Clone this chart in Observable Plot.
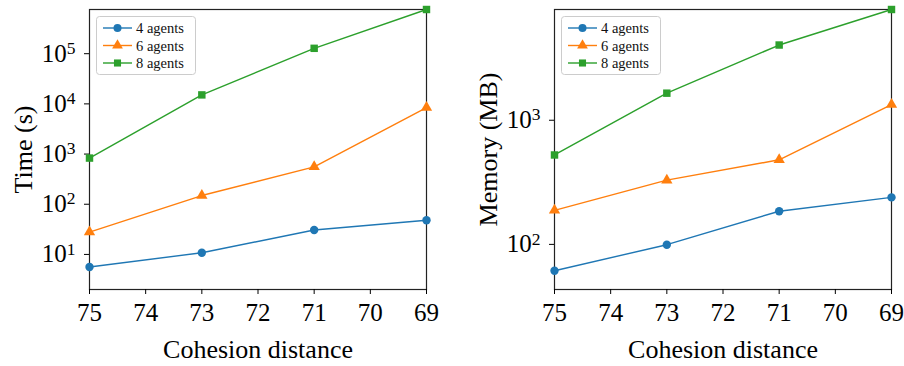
<!DOCTYPE html>
<html><head><meta charset="utf-8">
<script src="https://cdn.jsdelivr.net/npm/d3@7"></script>
<script src="https://cdn.jsdelivr.net/npm/@observablehq/plot@0.6"></script>
<style>
body{margin:0;background:#fff;}
#wrap{position:relative;width:904px;height:366px;display:flex;}
#wrap svg{display:block;}
.legend{position:absolute;top:16px;}
</style></head><body><div id="wrap"></div>
<script>
const distances = [75, 73, 71, 69];
const agents = ["4 agents", "6 agents", "8 agents"];
const colors = ["#1f77b4", "#ff7f0e", "#2ca02c"];
const symbols = ["circle", "triangle", "square"];
const time4 = [5.6, 10.8, 30.6, 48];
const time6 = [27.9, 149, 557, 8440];
const time8 = [832, 15100, 128000, 760000];
const mem4 = [61.3, 99.4, 185, 239];
const mem6 = [188, 329, 480, 1337];
const mem8 = [525, 1652, 4036, 7800];
const xTicks = [75, 74, 73, 72, 71, 70, 69];
const timeTicks = [1e1, 1e2, 1e3, 1e4, 1e5];
const memTicks = [1e2, 1e3];

function rowsOf(series) {
  const out = [];
  series.forEach((vals, i) => vals.forEach((v, j) => out.push({d: distances[j], v, s: agents[i]})));
  return out;
}
const timeRows = rowsOf([time4, time6, time8]);
const memRows = rowsOf([mem4, mem6, mem8]);

const FONT = "'Liberation Serif', 'Times New Roman', serif";

function chart({rows, yDomain, yTicks, yLabel, marginLeft, marginRight}) {
  const svg = Plot.plot({
    width: 452, height: 366,
    marginTop: 9, marginBottom: 77, marginLeft, marginRight,
    style: {fontSize: "25px", color: "#000", background: "transparent", overflow: "visible"},
    x: {domain: [75, 69]},
    y: {type: "log", domain: yDomain},
    color: {domain: agents, range: colors},
    symbol: {domain: agents, range: symbols},
    marks: [
      Plot.frame({stroke: "#222", strokeWidth: 1.2}),
      Plot.axisX({ticks: xTicks, tickSize: 5, tickPadding: 9, tickFormat: d => String(d), fontFamily: FONT,
        label: "Cohesion distance", labelAnchor: "center", labelArrow: "none", labelOffset: 68, fontSize: 25}),
      Plot.axisY({ticks: yTicks, tickSize: 5, tickPadding: 9, tickFormat: d => String(Math.round(Math.log10(d))), fontFamily: FONT,
        label: yLabel, labelAnchor: "center", labelArrow: "none", labelOffset: 76, fontSize: 25}),
      Plot.line(rows, {x: "d", y: "v", stroke: "s", strokeWidth: 1.4}),
      Plot.dot(rows, {x: "d", y: "v", fill: "s", symbol: "s", r: 4.2, stroke: "none"})
    ]
  });
  d3.select(svg).selectAll('g[aria-label="y-axis tick label"] text').each(function() {
    const k = this.textContent;
    const t = d3.select(this);
    t.text(null);
    t.append("tspan").text("10");
    t.append("tspan").attr("dy", "-0.45em").attr("font-size", "0.7em").text(k);
  });
  d3.select(svg).selectAll('g[aria-label="x-axis label"] text, g[aria-label="y-axis label"] text').attr("font-size", 26);
  d3.select(svg).style("font-family", FONT);
  d3.select(svg).selectAll("g, text").style("font-family", FONT);
  return svg;
}

function legend(left) {
  const w = 100, h = 59;
  const svg = d3.create("svg").attr("class", "legend").attr("width", w).attr("height", h)
    .style("left", left + "px");
  svg.append("rect").attr("x", 0.5).attr("y", 0.5).attr("width", w - 1).attr("height", h - 1)
    .attr("rx", 3).attr("fill", "#fff").attr("fill-opacity", 0.8).attr("stroke", "#ccc");
  agents.forEach((a, i) => {
    const y = 12 + 17.5 * i;
    const g = svg.append("g");
    g.append("line").attr("x1", 7).attr("x2", 36).attr("y1", y).attr("y2", y)
      .attr("stroke", colors[i]).attr("stroke-width", 1.4);
    const sym = {circle: d3.symbolCircle, triangle: d3.symbolTriangle, square: d3.symbolSquare}[symbols[i]];
    g.append("path").attr("d", d3.symbol(sym, 16 * Math.PI)()).attr("transform", `translate(21.5,${y})`)
      .attr("fill", colors[i]);
    g.append("text").attr("x", 40).attr("y", y + 5).attr("font-size", 14.5)
      .style("font-family", FONT).attr("fill", "#111").text(a);
  });
  return svg.node();
}

const wrap = document.getElementById("wrap");
wrap.append(chart({rows: timeRows, yDomain: [2.0, 7.6e5], yTicks: timeTicks, yLabel: "Time (s)", marginLeft: 89, marginRight: 26}));
wrap.append(chart({rows: memRows, yDomain: [43.3, 7800], yTicks: memTicks, yLabel: "Memory (MB)", marginLeft: 102, marginRight: 13}));
wrap.append(legend(96));
wrap.append(legend(561));
</script></body></html>
